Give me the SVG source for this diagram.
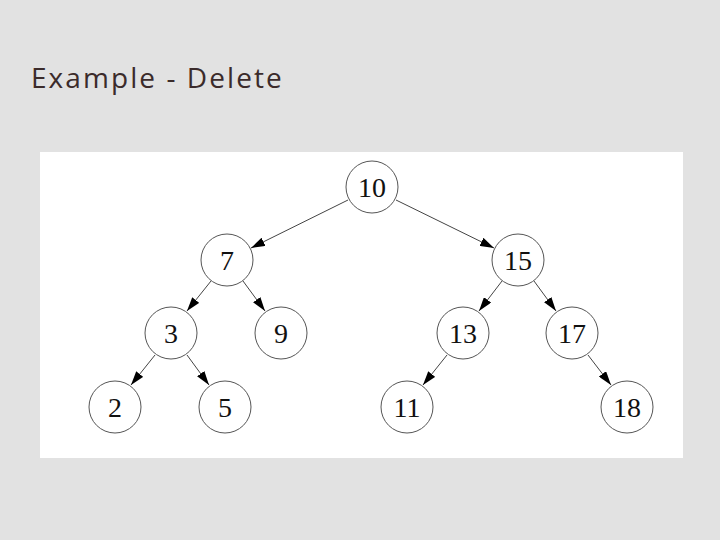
<svg xmlns="http://www.w3.org/2000/svg" width="720" height="540" viewBox="0 0 720 540">
<defs>
<marker id="ah" viewBox="0 0 14 9" refX="14" refY="4.5" markerWidth="14" markerHeight="9" markerUnits="userSpaceOnUse" orient="auto"><path d="M0,0 L14,4.5 L0,9 z" fill="#000"/></marker>
<style>
.n circle{fill:#fff;stroke:#555;stroke-width:1}
.n text{font-family:"Liberation Serif",serif;font-size:28px;fill:#111;text-anchor:middle}
#edges line{stroke:#444;stroke-width:1;marker-end:url(#ah)}
</style>
</defs>
<rect width="720" height="540" fill="#e2e2e2"/>
<text x="31" y="88" font-family="'Open Sans',sans-serif" font-size="28" letter-spacing="1.3" fill="#3b2b2b" textLength="252">Example - Delete</text>
<rect x="40" y="152" width="643" height="306" fill="#fff"/>
<g id="edges">
<line x1="348" y1="200" x2="251" y2="248"/>
<line x1="396" y1="200" x2="494" y2="248"/>
<line x1="211" y1="281" x2="187" y2="311"/>
<line x1="243" y1="281" x2="265" y2="311"/>
<line x1="502" y1="281" x2="479" y2="311"/>
<line x1="534" y1="281" x2="556" y2="311"/>
<line x1="155" y1="355" x2="131" y2="385"/>
<line x1="187" y1="355" x2="209" y2="385"/>
<line x1="447" y1="355" x2="423" y2="385"/>
<line x1="588" y1="355" x2="611" y2="385"/>
</g>
<g id="n10" class="n"><circle cx="372" cy="187" r="26"/><text x="372" y="197">10</text></g>
<g id="n7" class="n"><circle cx="227" cy="260" r="26"/><text x="227" y="270">7</text></g>
<g id="n15" class="n"><circle cx="518" cy="260" r="26"/><text x="518" y="270">15</text></g>
<g id="n3" class="n"><circle cx="171" cy="333" r="26"/><text x="171" y="343">3</text></g>
<g id="n9" class="n"><circle cx="281" cy="333" r="26"/><text x="281" y="343">9</text></g>
<g id="n13" class="n"><circle cx="463" cy="333" r="26"/><text x="463" y="343">13</text></g>
<g id="n17" class="n"><circle cx="572" cy="333" r="26"/><text x="572" y="343">17</text></g>
<g id="n2" class="n"><circle cx="115" cy="407" r="26"/><text x="115" y="417">2</text></g>
<g id="n5" class="n"><circle cx="225" cy="407" r="26"/><text x="225" y="417">5</text></g>
<g id="n11" class="n"><circle cx="407" cy="407" r="26"/><text x="407" y="417">11</text></g>
<g id="n18" class="n"><circle cx="627" cy="407" r="26"/><text x="627" y="417">18</text></g>
</svg>
